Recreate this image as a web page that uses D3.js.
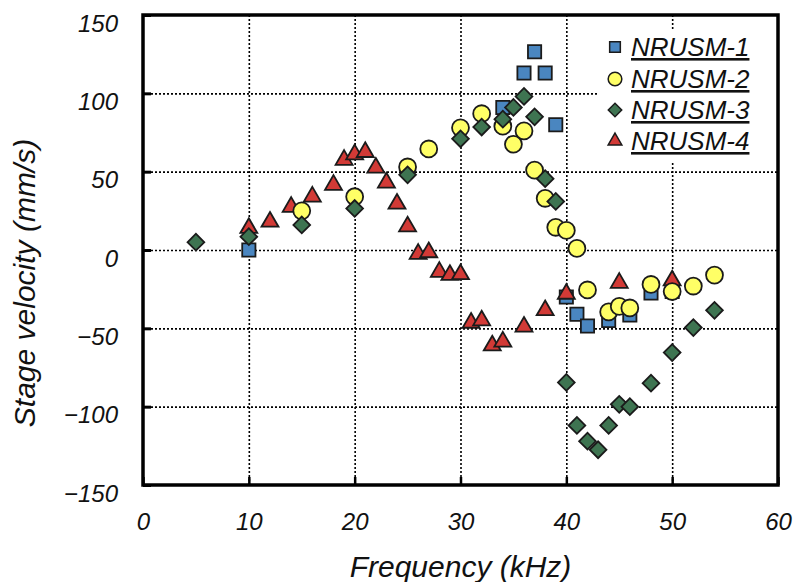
<!DOCTYPE html>
<meta charset="utf-8">
<style>* {padding:0; margin:0; border:0; outline:0;} body {background:#fff;} text {font-family:"Liberation Sans", Arial, sans-serif; font-style:italic;}</style>
<body>
<script src="https://d3js.org/d3.v7.min.js"></script>
<script>

// NRUSM-1 .. NRUSM-4 : frequency (kHz), stage velocity (mm/s)
var nrusm1 = [[10,0],[34,91],[36,113],[37,126.5],[38,113],[39,80],[40,-30],[41,-41],[42,-48.5],[44,-45],[46,-41.5],[48,-27.5],[50,-26.5]]
var nrusm2 = [[15,25],[20,34],[25,53],[27,64.5],[30,78],[32,87],[34,79],[35,67.5],[36,76],[37,51],[38,33],[39,14.5],[40,12.5],[41,1],[42,-25.5],[44,-39.5],[45,-36],[46,-37],[48,-22],[50,-26.5],[52,-23],[54,-16]]
var nrusm3 = [[5,5],[10,8.5],[15,16],[20,26.5],[25,48],[30,71],[32,78.5],[34,83.5],[35,91],[36,98],[37,85],[38,45.5],[39,31],[40,-84.5],[41,-112],[42,-122],[43,-127.5],[44,-112],[45,-98.5],[46,-100],[48,-85],[50,-65.5],[52,-49.5],[54,-38.5]]
var nrusm4 = [[10,14],[12,18],[14,27.5],[16,34],[18,41.5],[19,57.5],[20,61],[21,62.5],[22,52.5],[23,43],[24,29.5],[25,15],[26,-2.5],[27,-1.5],[28,-14],[29,-16],[30,-15.5],[31,-46.5],[32,-45],[33,-61],[34,-58.5],[36,-49],[38,-38.5],[40,-28],[45,-21],[50,-19.5]]

var seriesNames = ["NRUSM-1","NRUSM-2","NRUSM-3","NRUSM-4"]
var xTicks = [0,10,20,30,40,50,60]
var yTicks = [-150,-100,-50,0,50,100,150]

var width = 800, height = 582
var pL = 143, pR = 778, pT = 15, pB = 485

var styles = [
  {fill:"#4a86c0", sym:d3.symbolSquare, size:175, rot:0},
  {fill:"#ffff66", sym:d3.symbolCircle, size:225, rot:0},
  {fill:"#3e7451", sym:d3.symbolSquare, size:140, rot:45},
  {fill:"#d23a36", sym:d3.symbolTriangle, size:125, rot:0}
]
var series = [nrusm1, nrusm2, nrusm3, nrusm4]

var x = d3.scaleLinear().domain([0,60]).range([pL,pR])
var y = d3.scaleLinear().domain([-150,150]).range([pB,pT])

var svg = d3.select('body').append('svg')
  .attr('width', width)
  .attr('height', height)

// dotted grid
svg.append('g')
  .attr('transform', 'translate(0,' + pB + ')')
  .call(d3.axisBottom(x).tickValues(xTicks.slice(1,-1)).tickSize(-(pB-pT)).tickFormat(''))
  .call(g => g.select('.domain').remove())
  .selectAll('line').attr('stroke','#000').attr('stroke-width',1.6).attr('stroke-dasharray','2,2')
svg.append('g')
  .attr('transform', 'translate(' + pL + ',0)')
  .call(d3.axisLeft(y).tickValues(yTicks.slice(1,-1)).tickSize(-(pR-pL)).tickFormat(''))
  .call(g => g.select('.domain').remove())
  .selectAll('line').attr('stroke','#000').attr('stroke-width',1.6).attr('stroke-dasharray','2,2')

// legend background hides the grid behind it
svg.append('rect')
  .attr('x', 597).attr('y', 30).attr('width', pR - 597).attr('height', 133)
  .attr('fill', '#fff')

// axes with inward ticks
var xAxis = svg.append('g')
  .attr('transform', 'translate(0,' + pB + ')')
  .call(d3.axisBottom(x).tickValues(xTicks).tickSizeInner(-8).tickSizeOuter(0).tickPadding(37))
xAxis.select('.domain').remove()
xAxis.selectAll('line').attr('stroke-width',2.5)
xAxis.selectAll('text').style('font-size','24px').attr('fill','#111').attr('dy','0.35em')

var yAxis = svg.append('g')
  .attr('transform', 'translate(' + pL + ',0)')
  .call(d3.axisLeft(y).tickValues(yTicks).tickSizeInner(-8).tickSizeOuter(0).tickPadding(25))
yAxis.select('.domain').remove()
yAxis.selectAll('line').attr('stroke-width',3)
yAxis.selectAll('text').style('font-size','24px').attr('fill','#111').attr('dy','0.68em')
  .text(d => d < 0 ? '\u2212' + Math.abs(d) : d)

svg.append('rect')
  .attr('x', pL).attr('y', pT).attr('width', pR-pL).attr('height', pB-pT)
  .attr('fill','none').attr('stroke','#000').attr('stroke-width',3.5)

// markers: squares, triangles, circles, diamonds
var order = [0,3,1,2]
order.forEach(function(k){
  var st = styles[k]
  svg.append('g').selectAll('path')
    .data(series[k])
  .enter().append('path')
    .attr('d', d3.symbol().type(st.sym).size(st.size))
    .attr('transform', d => 'translate(' + x(d[0]) + ',' + y(d[1]) + ') rotate(' + st.rot + ')')
    .attr('fill', st.fill)
    .attr('stroke', '#1b1b1b')
    .attr('stroke-width', 1.8)
})

// legend
var legendY = [47, 79, 110, 141]
var leg = svg.append('g')
seriesNames.forEach(function(name, i){
  var st = styles[i]
  leg.append('path')
    .attr('d', d3.symbol().type(st.sym).size(st.size * 0.65))
    .attr('transform', 'translate(615,' + legendY[i] + ') rotate(' + st.rot + ')')
    .attr('fill', st.fill).attr('stroke', '#1b1b1b').attr('stroke-width', 1.5)
  leg.append('text')
    .attr('x', 631).attr('y', legendY[i] + 9)
    .style('font-size', '26px').attr('fill', '#111')
    .attr('text-decoration', 'underline')
    .text(name)
})

// titles
svg.append('text')
  .attr('x', (pL + pR) / 2).attr('y', 577)
  .attr('text-anchor', 'middle').style('font-size', '30px').attr('fill', '#111')
  .text('Frequency (kHz)')
svg.append('text')
  .attr('transform', 'translate(35,283) rotate(-90)')
  .attr('text-anchor', 'middle').style('font-size', '30px').attr('fill', '#111')
  .text('Stage velocity (mm/s)')

</script>
